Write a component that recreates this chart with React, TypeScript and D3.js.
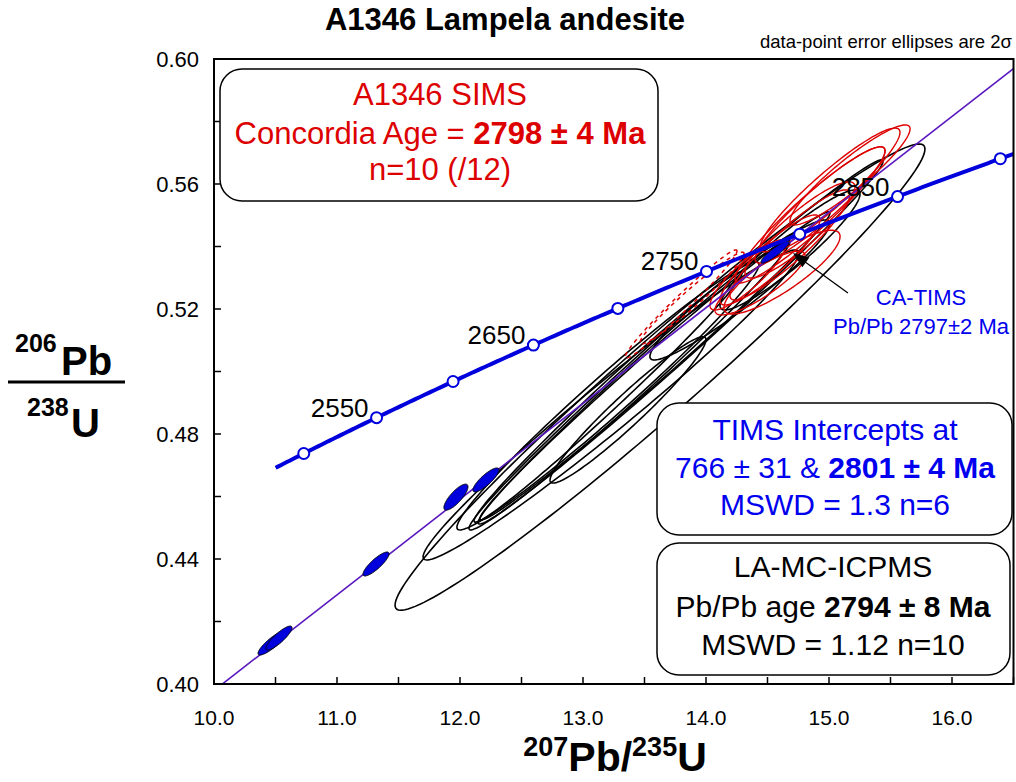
import React from "react";
import * as d3 from "d3";

const W = 1016;
const H = 782;
const PLOT = { left: 214, right: 1013.5, top: 59, bottom: 684 };

// Axis domains and ticks
const xDomain: [number, number] = [10, 16.5];
const yDomain: [number, number] = [0.4, 0.6];
const xMajorTicks = [10, 11, 12, 13, 14, 15, 16];
const xTickLabels = ["10.0", "11.0", "12.0", "13.0", "14.0", "15.0", "16.0"];
const xMinorTicks = [10.5, 11.5, 12.5, 13.5, 14.5, 15.5, 16.5];
const yMajorTicks = [0.4, 0.44, 0.48, 0.52, 0.56, 0.6];
const yTickLabels = ["0.40", "0.44", "0.48", "0.52", "0.56", "0.60"];
const yMinorTicks = [0.42, 0.46, 0.5, 0.54, 0.58];

// U decay constants (per Ma)
const LAMBDA_238 = 1.55125e-4;
const LAMBDA_235 = 9.8485e-4;

// Concordia: drawn span, age markers and labelled ages (Ma)
const concordiaSpan: [number, number] = [2480, 2940];
const concordiaMarkerAges = [2500, 2550, 2600, 2650, 2700, 2750, 2800, 2850, 2900];
const concordiaLabelAges = [2550, 2650, 2750, 2850];

// TIMS discordia intercepts (Ma)
const timsInterceptAges = [766, 2801];

// Error ellipses: [207Pb/235U, 206Pb/238U, 2s 207/235, 2s 206/238, rho]
type Ellipse = [number, number, number, number, number];

const laIcpmsEllipses: Ellipse[] = [
  [13.626, 0.4982, 2.154, 0.0746, 0.978],
  [13.228, 0.4893, 1.528, 0.0496, 0.98],
  [13.203, 0.4922, 1.228, 0.0429, 0.98],
  [13.203, 0.4918, 1.089, 0.04, 0.99],
  [13.415, 0.4966, 1.268, 0.0454, 0.99],
  [13.585, 0.5018, 1.423, 0.0493, 0.992],
  [13.366, 0.4877, 0.634, 0.0234, 0.96],
  [13.756, 0.5085, 1.683, 0.0592, 0.992],
  [14.683, 0.5389, 0.569, 0.0192, 0.93],
  [14.276, 0.5261, 0.732, 0.0224, 0.95],
];

const simsEllipses: Ellipse[] = [
  [14.683, 0.5405, 0.488, 0.0176, 0.92],
  [14.846, 0.5501, 0.61, 0.0218, 0.94],
  [15.008, 0.5581, 0.569, 0.0198, 0.93],
  [15.171, 0.5629, 0.488, 0.016, 0.92],
  [14.52, 0.5357, 0.407, 0.0144, 0.9],
  [14.439, 0.5283, 0.366, 0.0102, 0.85],
  [14.764, 0.5453, 0.447, 0.0154, 0.89],
  [14.618, 0.5318, 0.472, 0.0134, 0.85],
  [14.927, 0.5533, 0.528, 0.0186, 0.93],
  [14.341, 0.5309, 0.309, 0.0112, 0.87],
];

const simsRejected: Ellipse[] = [
  [13.797, 0.5216, 0.455, 0.0173, 0.98],
  [13.886, 0.5235, 0.423, 0.0147, 0.97],
];

const timsEllipses: Ellipse[] = [
  [10.472, 0.4131, 0.114, 0.00384, 0.86],
  [10.528, 0.4147, 0.106, 0.00384, 0.86],
  [11.317, 0.4384, 0.106, 0.00384, 0.85],
  [11.967, 0.4598, 0.098, 0.00416, 0.8],
  [12.211, 0.4653, 0.106, 0.00384, 0.84],
  [14.561, 0.5382, 0.114, 0.00352, 0.9],
];

// CA-TIMS annotation arrow: [from, to] in data units
const arrowFrom: [number, number] = [15.154, 0.5251];
const arrowTo: [number, number] = [14.707, 0.5379];

const FONT = "'Liberation Sans', Arial, Helvetica, sans-serif";
const RED = "#dd0000";
const BLUE = "#0000ee";
const CURVE_BLUE = "#0000dd";
const DISCORDIA = "#5a18c0";

const x = d3.scaleLinear().domain(xDomain).range([PLOT.left, PLOT.right]);
const y = d3.scaleLinear().domain(yDomain).range([PLOT.bottom, PLOT.top]);

const r206 = (t: number) => Math.exp(LAMBDA_238 * t) - 1;
const r207 = (t: number) => Math.exp(LAMBDA_235 * t) - 1;

const closedLine = d3.line<[number, number]>().curve(d3.curveLinearClosed);
const openLine = d3.line<[number, number]>();

function ellipsePath([cx, cy, ex, ey, rho]: Ellipse): string {
  const n = 160;
  const s = Math.sqrt(1 - rho * rho);
  const pts: [number, number][] = d3.range(n).map((i) => {
    const t = (i / n) * Math.PI * 2;
    return [x(cx + ex * Math.cos(t)), y(cy + ey * (rho * Math.cos(t) + s * Math.sin(t)))];
  });
  return closedLine(pts) as string;
}

function concordiaPath(): string {
  const [a, b] = concordiaSpan;
  const ages = d3.range(a, b + 1, 2);
  return openLine(ages.map((t) => [x(r207(t)), y(r206(t))] as [number, number])) as string;
}

function discordiaPath(): string {
  const [lo, hi] = timsInterceptAges;
  const x1 = r207(lo), y1 = r206(lo);
  const x2 = r207(hi), y2 = r206(hi);
  const slope = (y2 - y1) / (x2 - x1);
  const xa = xDomain[0], xb = xDomain[1];
  return openLine([
    [x(xa), y(y1 + slope * (xa - x1))],
    [x(xb), y(y1 + slope * (xb - x1))],
  ]) as string;
}

type Line = { parts: { text: string; bold?: boolean }[]; y: number };

function InfoBox({
  bx, by, bw, bh, color, size, cx, lines,
}: { bx: number; by: number; bw: number; bh: number; color: string; size: number; cx: number; lines: Line[] }) {
  return (
    <g>
      <rect x={bx} y={by} width={bw} height={bh} rx={22} ry={22} fill="white" stroke="black" strokeWidth={1.5} />
      {lines.map((ln, i) => (
        <text key={i} x={cx} y={ln.y} textAnchor="middle" fontFamily={FONT} fontSize={size} fill={color}>
          {ln.parts.map((p, j) => (
            <tspan key={j} fontWeight={p.bold ? "bold" : "normal"}>{p.text}</tspan>
          ))}
        </text>
      ))}
    </g>
  );
}

export default function App() {
  const tickLen = 7;
  const arrowAngle = Math.atan2(y(arrowTo[1]) - y(arrowFrom[1]), x(arrowTo[0]) - x(arrowFrom[0]));
  const ax = x(arrowTo[0]);
  const ay = y(arrowTo[1]);
  const headLen = 16;
  const headW = 6;
  const head: [number, number][] = [
    [ax, ay],
    [ax - headLen * Math.cos(arrowAngle) + headW * Math.sin(arrowAngle), ay - headLen * Math.sin(arrowAngle) - headW * Math.cos(arrowAngle)],
    [ax - headLen * Math.cos(arrowAngle) - headW * Math.sin(arrowAngle), ay - headLen * Math.sin(arrowAngle) + headW * Math.cos(arrowAngle)],
  ];

  return (
    <div style={{ position: "absolute", left: 0, top: 0 }}>
      <svg width={W} height={H} style={{ display: "block", background: "white" }}>
        <defs>
          <clipPath id="plot-clip">
            <rect x={PLOT.left} y={PLOT.top} width={PLOT.right - PLOT.left} height={PLOT.bottom - PLOT.top} />
          </clipPath>
        </defs>

        {/* Title and note */}
        <text x={505} y={30} textAnchor="middle" fontFamily={FONT} fontSize={31} fontWeight="bold">
          A1346 Lampela andesite
        </text>
        <text x={1012} y={48} textAnchor="end" fontFamily={FONT} fontSize={18.5}>
          data-point error ellipses are 2σ
        </text>

        <g clipPath="url(#plot-clip)">
          {/* LA-MC-ICPMS ellipses */}
          {laIcpmsEllipses.map((e, i) => (
            <path key={`la${i}`} d={ellipsePath(e)} fill="none" stroke="black" strokeWidth={1.6} />
          ))}
          {/* SIMS rejected analyses */}
          {simsRejected.map((e, i) => (
            <path key={`rj${i}`} d={ellipsePath(e)} fill="none" stroke={RED} strokeWidth={1.5} strokeDasharray="4 4" />
          ))}
          {/* SIMS ellipses */}
          {simsEllipses.map((e, i) => (
            <path key={`si${i}`} d={ellipsePath(e)} fill="none" stroke={RED} strokeWidth={1.4} />
          ))}
          {/* TIMS discordia */}
          <path d={discordiaPath()} fill="none" stroke={DISCORDIA} strokeWidth={1.6} />
          {/* TIMS ellipses */}
          {timsEllipses.map((e, i) => (
            <path key={`ti${i}`} d={ellipsePath(e)} fill={CURVE_BLUE} stroke="black" strokeWidth={1} />
          ))}
          {/* Concordia */}
          <path d={concordiaPath()} fill="none" stroke={CURVE_BLUE} strokeWidth={4} />
          {concordiaMarkerAges.map((t) => (
            <circle key={t} cx={x(r207(t))} cy={y(r206(t))} r={5.5} fill="white" stroke={CURVE_BLUE} strokeWidth={2} />
          ))}
        </g>

        {concordiaLabelAges.map((t) => (
          <text key={t} x={x(r207(t)) - 8} y={y(r206(t)) - 1} textAnchor="end" fontFamily={FONT} fontSize={26}>
            {t}
          </text>
        ))}

        {/* CA-TIMS annotation */}
        <line x1={x(arrowFrom[0])} y1={y(arrowFrom[1])} x2={ax - 10 * Math.cos(arrowAngle)} y2={ay - 10 * Math.sin(arrowAngle)} stroke="black" strokeWidth={1.3} />
        <path d={closedLine(head) as string} fill="black" />
        <text x={921} y={305} textAnchor="middle" fontFamily={FONT} fontSize={22} fill={BLUE}>CA-TIMS</text>
        <text x={921} y={334} textAnchor="middle" fontFamily={FONT} fontSize={22} fill={BLUE}>Pb/Pb 2797±2 Ma</text>

        {/* Frame and ticks */}
        <rect x={PLOT.left} y={PLOT.top} width={PLOT.right - PLOT.left} height={PLOT.bottom - PLOT.top} fill="none" stroke="black" strokeWidth={2} />
        {[...xMajorTicks, ...xMinorTicks].map((v) => (
          <line key={`xt${v}`} x1={x(v)} x2={x(v)} y1={PLOT.bottom} y2={PLOT.bottom - tickLen} stroke="black" strokeWidth={1.5} />
        ))}
        {[...yMajorTicks, ...yMinorTicks].map((v) => (
          <line key={`yt${v}`} x1={PLOT.left} x2={PLOT.left + tickLen} y1={y(v)} y2={y(v)} stroke="black" strokeWidth={1.5} />
        ))}
        {xMajorTicks.map((v, i) => (
          <text key={`xl${v}`} x={x(v)} y={725} textAnchor="middle" fontFamily={FONT} fontSize={21}>
            {xTickLabels[i]}
          </text>
        ))}
        {yMajorTicks.map((v, i) => (
          <text key={`yl${v}`} x={199} y={y(v) + 8} textAnchor="end" fontFamily={FONT} fontSize={22}>
            {yTickLabels[i]}
          </text>
        ))}

        {/* Info boxes */}
        <InfoBox
          bx={220} by={69} bw={438} bh={132} color={RED} size={31} cx={440}
          lines={[
            { parts: [{ text: "A1346 SIMS" }], y: 105 },
            { parts: [{ text: "Concordia Age = " }, { text: "2798 ± 4 Ma", bold: true }], y: 144 },
            { parts: [{ text: "n=10 (/12)" }], y: 180 },
          ]}
        />
        <InfoBox
          bx={657} by={403} bw={355} bh={132} color={BLUE} size={30} cx={835}
          lines={[
            { parts: [{ text: "TIMS Intercepts at" }], y: 440 },
            { parts: [{ text: "766 ± 31 & " }, { text: "2801 ± 4 Ma", bold: true }], y: 478 },
            { parts: [{ text: "MSWD = 1.3 n=6" }], y: 515 },
          ]}
        />
        <InfoBox
          bx={657} by={543} bw={353} bh={132} color="black" size={30} cx={833}
          lines={[
            { parts: [{ text: "LA-MC-ICPMS" }], y: 577 },
            { parts: [{ text: "Pb/Pb age " }, { text: "2794 ± 8 Ma", bold: true }], y: 617 },
            { parts: [{ text: "MSWD = 1.12 n=10" }], y: 655 },
          ]}
        />

        {/* Axis titles */}
        <text x={615} y={771} textAnchor="middle" fontFamily={FONT} fontWeight="bold">
          <tspan fontSize={27} dy={-15}>207</tspan>
          <tspan fontSize={41} dy={15}>Pb/</tspan>
          <tspan fontSize={27} dy={-15}>235</tspan>
          <tspan fontSize={41} dy={15}>U</tspan>
        </text>
        <g fontFamily={FONT} fontWeight="bold">
          <text x={15} y={352} fontSize={25}>206</text>
          <text x={61} y={375} fontSize={40}>Pb</text>
          <line x1={8} x2={125} y1={382} y2={382} stroke="black" strokeWidth={3} />
          <text x={27} y={416} fontSize={25}>238</text>
          <text x={71} y={437} fontSize={40}>U</text>
        </g>
      </svg>
    </div>
  );
}
